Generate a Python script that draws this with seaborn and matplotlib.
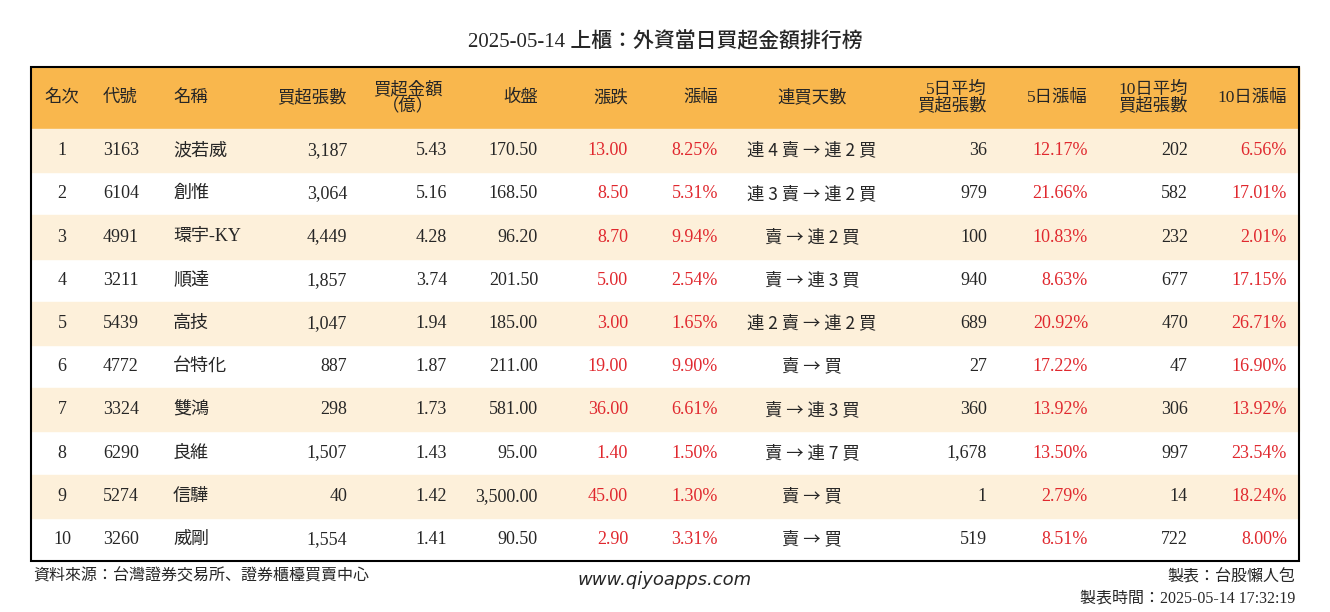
import matplotlib.pyplot as plt
import seaborn as sns
from matplotlib.patches import Rectangle

sns.set_theme(style="white")
plt.rcParams["font.family"] = ["Liberation Serif", "Noto Sans CJK TC", "Noto Sans CJK JP",
                               "Noto Sans CJK SC", "Noto Sans CJK KR"]
CJK_FIRST = ["Noto Sans CJK TC", "Noto Sans CJK JP", "Liberation Serif"]

# data
ranks = [1, 2, 3, 4, 5, 6, 7, 8, 9, 10]
codes = ["3163", "6104", "4991", "3211", "5439", "4772", "3324", "6290", "5274", "3260"]
names = ["波若威", "創惟", "環宇-KY", "順達", "高技", "台特化", "雙鴻", "良維", "信驊", "威剛"]
buy_lots = [3187, 3064, 4449, 1857, 1047, 887, 298, 1507, 40, 1554]
buy_amount = [5.43, 5.16, 4.28, 3.74, 1.94, 1.87, 1.73, 1.43, 1.42, 1.41]
close = [170.50, 168.50, 96.20, 201.50, 185.00, 211.00, 581.00, 95.00, 3500.00, 90.50]
change = [13.00, 8.50, 8.70, 5.00, 3.00, 19.00, 36.00, 1.40, 45.00, 2.90]
change_pct = [8.25, 5.31, 9.94, 2.54, 1.65, 9.90, 6.61, 1.50, 1.30, 3.31]
streak = ["連 4 賣 → 連 2 買", "連 3 賣 → 連 2 買", "賣 → 連 2 買", "賣 → 連 3 買",
          "連 2 賣 → 連 2 買", "賣 → 買", "賣 → 連 3 買", "賣 → 連 7 買", "賣 → 買", "賣 → 買"]
avg5 = [36, 979, 100, 940, 689, 27, 360, 1678, 1, 519]
pct5 = [12.17, 21.66, 10.83, 8.63, 20.92, 17.22, 13.92, 13.50, 2.79, 8.51]
avg10 = [202, 582, 232, 677, 470, 47, 306, 997, 14, 722]
pct10 = [6.56, 17.01, 2.01, 17.15, 26.71, 16.90, 13.92, 23.54, 18.24, 8.00]

RED = "#e0282e"
fig = plt.figure(figsize=(13.3, 6.12), dpi=100)
ax = fig.add_axes([0, 0, 1, 1])
ax.set_xlim(0, 1330)
ax.set_ylim(612, 0)
ax.axis("off")

ax.text(665, 42, "2025-05-14 上櫃：外資當日買超金額排行榜", ha="center", va="center",
        fontsize=15, fontweight="medium")

left, right, top, head_h, row_h = 31, 1299, 67, 62, 43.2
ax.add_patch(Rectangle((left, top), right - left, head_h, color="#f9b74d", zorder=0))
for i in range(len(ranks)):
    y0 = top + head_h + i * row_h
    if i % 2 == 0:
        ax.add_patch(Rectangle((left, y0), right - left, row_h, color="#fdf0da", zorder=0))
bottom = top + head_h + len(ranks) * row_h
ax.add_patch(Rectangle((left, top), right - left, bottom - top, fill=False, ec="black", lw=1.5, zorder=3))

hy = top + head_h / 2
hs = 12.5
headers = [(62, "名次", "center"), (103, "代號", "left"), (173, "名稱", "left"),
           (347, "買超張數", "right"), (408, "買超金額\n（億）", "center"), (538, "收盤", "right"),
           (628, "漲跌", "right"), (718, "漲幅", "right"), (812, "連買天數", "center"),
           (987, "5日平均\n買超張數", "right"), (1088, "5日漲幅", "right"),
           (1188, "10日平均\n買超張數", "right"), (1287, "10日漲幅", "right")]
for x, t, ha in headers:
    ax.text(x, hy, t, ha=ha, va="center", fontsize=hs, linespacing=1.0)

fs = 13
for i in range(len(ranks)):
    y = top + head_h + (i + 0.5) * row_h
    ax.text(62, y, str(ranks[i]), ha="center", va="center", fontsize=fs)
    ax.text(103, y, codes[i], ha="left", va="center", fontsize=fs)
    ax.text(173, y, names[i], ha="left", va="center", fontsize=fs)
    ax.text(347, y, f"{buy_lots[i]:,}", ha="right", va="center", fontsize=fs)
    ax.text(447, y, f"{buy_amount[i]:.2f}", ha="right", va="center", fontsize=fs)
    ax.text(538, y, f"{close[i]:,.2f}", ha="right", va="center", fontsize=fs)
    ax.text(628, y, f"{change[i]:.2f}", ha="right", va="center", fontsize=fs, color=RED)
    ax.text(718, y, f"{change_pct[i]:.2f}%", ha="right", va="center", fontsize=fs, color=RED)
    ax.text(812, y, streak[i], ha="center", va="center", fontsize=12.5, family=CJK_FIRST)
    ax.text(987, y, f"{avg5[i]:,}", ha="right", va="center", fontsize=fs)
    ax.text(1088, y, f"{pct5[i]:.2f}%", ha="right", va="center", fontsize=fs, color=RED)
    ax.text(1188, y, f"{avg10[i]:,}", ha="right", va="center", fontsize=fs)
    ax.text(1287, y, f"{pct10[i]:.2f}%", ha="right", va="center", fontsize=fs, color=RED)

ax.text(33, 577, "資料來源：台灣證券交易所、證券櫃檯買賣中心", ha="left", va="center", fontsize=11.5)
ax.text(665, 580, "www.qiyoapps.com", ha="center", va="center", fontsize=13,
        style="italic", family="DejaVu Sans")
ax.text(1295, 577, "製表：台股懶人包", ha="right", va="center", fontsize=11.5)
ax.text(1295, 598, "製表時間：2025-05-14 17:32:19", ha="right", va="center", fontsize=11.5)

fig.savefig("out.png", dpi=100, facecolor="white")
